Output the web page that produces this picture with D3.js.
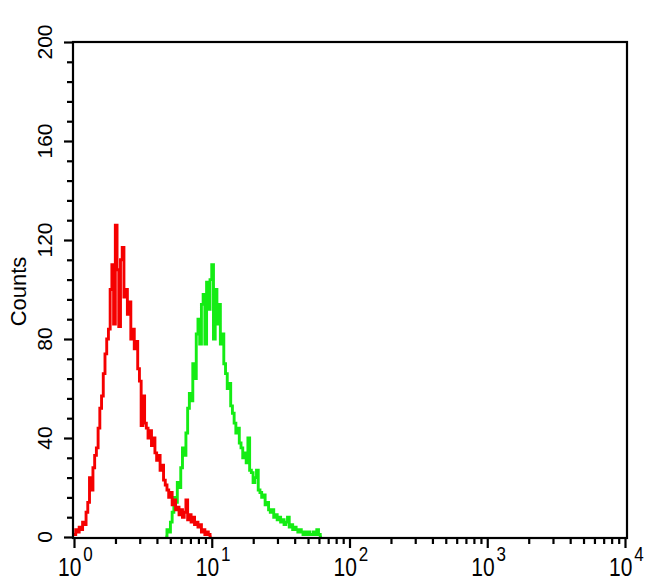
<!DOCTYPE html>
<html>
<head>
<meta charset="utf-8">
<script src="https://cdn.jsdelivr.net/npm/d3@7/dist/d3.min.js"></script>
<style>
  html, body { margin: 0; padding: 0; background: #fff; }
  svg { display: block; }
  text { font-family: "Liberation Sans", Arial, Helvetica, sans-serif; fill: #000; }
</style>
</head>
<body>
<svg id="chart" width="650" height="585"></svg>
<script>
// ---- data (histogram channels, 80 channels per decade) ----
const binsPerDecade = 80;
const redFirstBin = 0;
const greenFirstBin = 53;
const redCounts = [
  1, 3, 2, 4, 3, 6, 5, 10, 14, 24,
  19, 28, 33, 36, 44, 52, 57, 66, 74, 80,
  84, 100, 110, 86, 126, 108, 85, 112, 117, 97,
  100, 90, 95, 80, 84, 76, 79, 68, 63, 45,
  57, 46, 44, 40, 43, 37, 40, 34, 31, 33,
  27, 29, 23, 21, 19, 16, 18, 13, 15, 11,
  12, 9, 11, 8, 10, 15, 7, 9, 6, 8,
  5, 6, 4, 5, 2, 3, 1, 2, 1, 0
];
const greenCounts = [
  0, 3, 2, 6, 10, 16, 14, 22, 20, 28,
  36, 33, 42, 52, 58, 55, 70, 64, 82, 88,
  78, 94, 98, 78, 103, 92, 104, 110, 80, 100,
  86, 94, 78, 82, 70, 66, 60, 62, 53, 50,
  46, 42, 44, 38, 36, 32, 34, 30, 40, 27,
  26, 22, 24, 27, 19, 18, 16, 17, 13, 14,
  11, 10, 11, 8, 9, 7, 8, 6, 7, 5,
  6, 8, 4, 5, 3, 4, 3, 2, 3, 2,
  1, 2, 1, 2, 1, 1, 2, 1, 3, 1, 0
];
const yMajorTicks = [0, 40, 80, 120, 160, 200];
const yMinorStep = 8;
const xDecadeExponents = [0, 1, 2, 3, 4];
const yAxisTitle = "Counts";

// ---- scales ----
const svg = d3.select("#chart");
svg.append("rect").attr("width", 650).attr("height", 585).attr("fill", "#fff");

const x = d3.scaleLog().domain([1, 1e4]).range([74, 625]);
const y = d3.scaleLinear().domain([0, 200]).range([537, 42]);

// ---- histograms ----
function toPoints(counts, firstBin) {
  const pts = counts.map((c, i) => [Math.pow(10, (firstBin + i) / binsPerDecade), c]);
  pts.push([Math.pow(10, (firstBin + counts.length) / binsPerDecade), 0]);
  return pts;
}
const line = d3.line()
  .x(d => x(d[0]))
  .y(d => y(d[1]))
  .curve(d3.curveStepAfter);

svg.append("path")
  .datum(toPoints(greenCounts, greenFirstBin))
  .attr("d", line)
  .attr("fill", "none")
  .attr("stroke", "#14ec14")
  .attr("stroke-width", 2.9)
  .attr("stroke-linejoin", "miter");

svg.append("path")
  .datum(toPoints(redCounts, redFirstBin))
  .attr("d", line)
  .attr("fill", "none")
  .attr("stroke", "#f50000")
  .attr("stroke-width", 2.9)
  .attr("stroke-linejoin", "miter");

// ---- frame ----
const [xl, xr] = x.range();
const [yb, yt] = y.range();
svg.append("rect")
  .attr("x", xl - 1).attr("y", yt)
  .attr("width", (xr + 2) - (xl - 1)).attr("height", yb + 1 - yt)
  .attr("fill", "none").attr("stroke", "#000").attr("stroke-width", 2.2);

// ---- y axis ----
const yMinor = d3.range(0, 200 + 1, yMinorStep).filter(v => !yMajorTicks.includes(v));
const yAxisMinor = d3.axisLeft(y).tickValues(yMinor).tickSize(6).tickFormat("");
const yAxisMajor = d3.axisLeft(y).tickValues(yMajorTicks).tickSize(9).tickFormat("");
[yAxisMinor, yAxisMajor].forEach(ax => {
  const g = svg.append("g").attr("transform", `translate(${xl - 1},0)`).call(ax);
  g.select(".domain").remove();
  g.selectAll(".tick line").attr("stroke", "#000").attr("stroke-width", 2.2);
});
yMajorTicks.forEach(v => {
  svg.append("text")
    .attr("transform", `translate(52,${y(v)}) rotate(-90)`)
    .attr("text-anchor", "middle")
    .attr("font-size", 21)
    .text(v);
});
svg.append("text")
  .attr("transform", `translate(26,${(yb + yt) / 2 + 2}) rotate(-90)`)
  .attr("text-anchor", "middle")
  .attr("font-size", 22)
  .text(yAxisTitle);

// ---- x axis ----
const xMajor = xDecadeExponents.map(e => Math.pow(10, e));
const xMinor = [];
xDecadeExponents.slice(0, -1).forEach(e => {
  for (let m = 2; m <= 9; m++) xMinor.push(m * Math.pow(10, e));
});
const xAxisMinor = d3.axisBottom(x).tickValues(xMinor).tickSize(6).tickFormat("");
const xAxisMajor = d3.axisBottom(x).tickValues(xMajor).tickSize(10).tickFormat("");
[xAxisMinor, xAxisMajor].forEach(ax => {
  const g = svg.append("g").attr("transform", `translate(0,${yb + 1})`).call(ax);
  g.select(".domain").remove();
  g.selectAll(".tick line").attr("stroke", "#000").attr("stroke-width", 2.2);
});
xDecadeExponents.forEach(e => {
  const t = svg.append("text")
    .attr("transform", `translate(${x(Math.pow(10, e)) - 16},576) scale(1,1.22)`)
    .attr("font-size", 21);
  t.append("tspan").text("10");
  t.append("tspan").attr("dx", 2).attr("dy", -12).attr("font-size", 17).text(e);
});
</script>
</body>
</html>
